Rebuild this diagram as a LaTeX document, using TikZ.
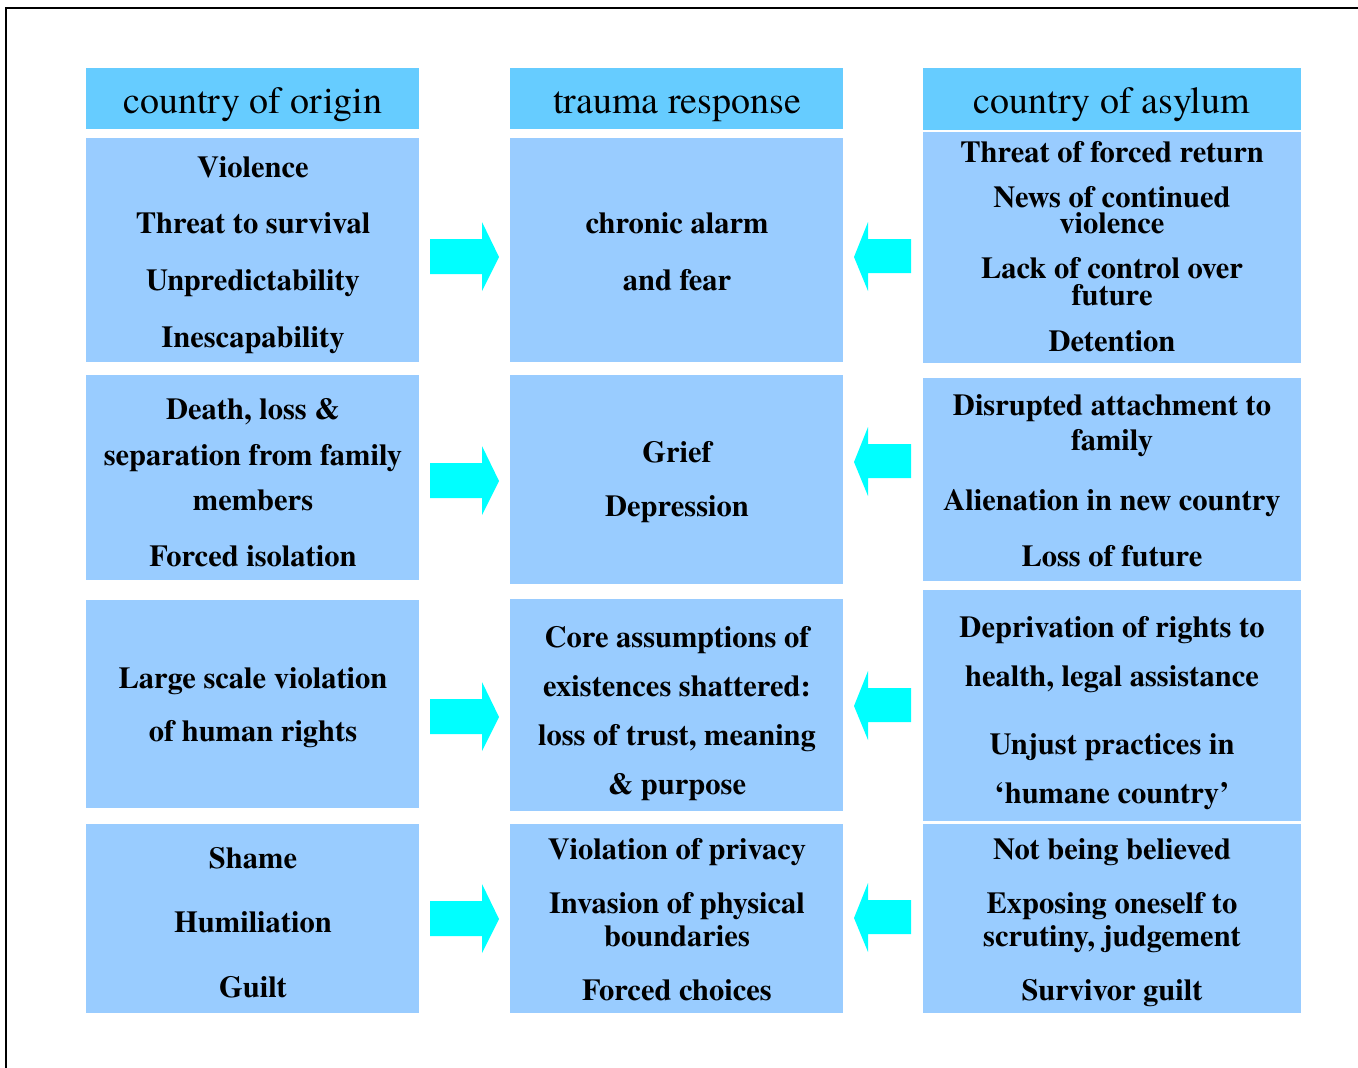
\documentclass[tikz,border=0pt]{standalone}
\usepackage{fontspec}
\setmainfont{TeX Gyre Termes}
\definecolor{hdr}{HTML}{66CCFF}
\definecolor{bodyc}{HTML}{99CCFF}
\definecolor{arr}{HTML}{00FFFF}
\begin{document}
\begin{tikzpicture}[x=1pt,y=-1pt,
  hdrbox/.style={fill=hdr,draw=none,inner sep=0pt,outer sep=0pt,anchor=north west},
  bodybox/.style={fill=bodyc,draw=none,inner sep=0pt,outer sep=0pt,anchor=north west},
  hdrtxt/.style={anchor=base,inner sep=0pt,font=\fontsize{38}{38}\selectfont},
  txt/.style={anchor=base,inner sep=0pt,align=center,font=\fontsize{30.5}{#1}\selectfont\bfseries},
  txt/.default=30,
  arrowfill/.style={fill=arr,draw=none}]
\useasboundingbox (0,0) rectangle (1358,1068);
\draw[line width=2.5pt] (6,1068) -- (6,8) -- (1358,8);

% headers
\node[hdrbox,minimum width=333pt,minimum height=61pt] (h1) at (86,68) {};
\node[hdrbox,minimum width=333pt,minimum height=61pt] (h2) at (510,68) {};
\node[hdrbox,minimum width=378pt,minimum height=62pt] (h3) at (923,68) {};
\node[hdrtxt] (th1) at (253,113) {country of origin};
\node[hdrtxt] (th2) at (677,113) {trauma response};
\node[hdrtxt] (th3) at (1112,113) {country of asylum};

% left column boxes
\node[bodybox,minimum width=333pt,minimum height=224pt] (l1) at (86,138) {};
\node[bodybox,minimum width=333pt,minimum height=205pt] (l2) at (86,375) {};
\node[bodybox,minimum width=333pt,minimum height=208pt] (l3) at (86,600) {};
\node[bodybox,minimum width=333pt,minimum height=189pt] (l4) at (86,824) {};
% middle
\node[bodybox,minimum width=333pt,minimum height=224pt] (m1) at (510,138) {};
\node[bodybox,minimum width=333pt,minimum height=209pt] (m2) at (510,375) {};
\node[bodybox,minimum width=333pt,minimum height=212pt] (m3) at (510,599) {};
\node[bodybox,minimum width=333pt,minimum height=189pt] (m4) at (510,824) {};
% right
\node[bodybox,minimum width=378pt,minimum height=231pt] (r1) at (923,132) {};
\node[bodybox,minimum width=378pt,minimum height=203pt] (r2) at (923,378) {};
\node[bodybox,minimum width=378pt,minimum height=231pt] (r3) at (923,590) {};
\node[bodybox,minimum width=378pt,minimum height=189pt] (r4) at (923,824) {};

% left texts
\node[txt] at (253,177) {Violence};
\node[txt] at (253,233) {Threat to survival};
\node[txt] at (253,290) {Unpredictability};
\node[txt] at (253,347) {Inescapability};
\node[txt] at (253,419) {Death, loss \&};
\node[txt] at (253,465) {separation from family};
\node[txt] at (253,510) {members};
\node[txt] at (253,566) {Forced isolation};
\node[txt] at (253,688) {Large scale violation};
\node[txt] at (253,741) {of human rights};
\node[txt] at (253,868) {Shame};
\node[txt] at (253,932) {Humiliation};
\node[txt] at (253,997) {Guilt};

% middle texts
\node[txt] at (677,233) {chronic alarm};
\node[txt] at (677,290) {and fear};
\node[txt] at (677,462) {Grief};
\node[txt] at (677,516) {Depression};
\node[txt] at (677,647) {Core assumptions of};
\node[txt] at (677,696) {existences shattered:};
\node[txt] at (677,745) {loss of trust, meaning};
\node[txt] at (677,794) {\& purpose};
\node[txt] at (677,859) {Violation of privacy};
\node[txt=33] at (677,946) {Invasion of physical\\boundaries};
\node[txt] at (677,1000) {Forced choices};

% right texts
\node[txt] at (1112,162) {Threat of forced return};
\node[txt=26] at (1112,233) {News of continued\\violence};
\node[txt=27] at (1112,305) {Lack of control over\\future};
\node[txt] at (1112,351) {Detention};
\node[txt=35] at (1112,450) {Disrupted attachment to\\family};
\node[txt] at (1112,510) {Alienation in new country};
\node[txt] at (1112,566) {Loss of future};
\node[txt] at (1112,637) {Deprivation of rights to};
\node[txt] at (1112,686) {health, legal assistance};
\node[txt] at (1112,754) {Unjust practices in};
\node[txt] at (1112,803) {‘humane country’};
\node[txt] at (1112,859) {Not being believed};
\node[txt=33] at (1112,946) {Exposing oneself to\\scrutiny, judgement};
\node[txt] at (1112,1000) {Survivor guilt};

% arrows
\foreach \c in {257,481,717,919}{
  \fill[arrowfill] (430,\c-18) -- (482,\c-18) -- (482,\c-35) -- (499,\c) -- (482,\c+34) -- (482,\c+17) -- (430,\c+17) -- cycle;
}
\foreach \c in {257,462,706,918}{
  \fill[arrowfill] (911,\c-18) -- (868,\c-18) -- (868,\c-35) -- (854,\c) -- (868,\c+34) -- (868,\c+16) -- (911,\c+16) -- cycle;
}
\end{tikzpicture}
\end{document}
